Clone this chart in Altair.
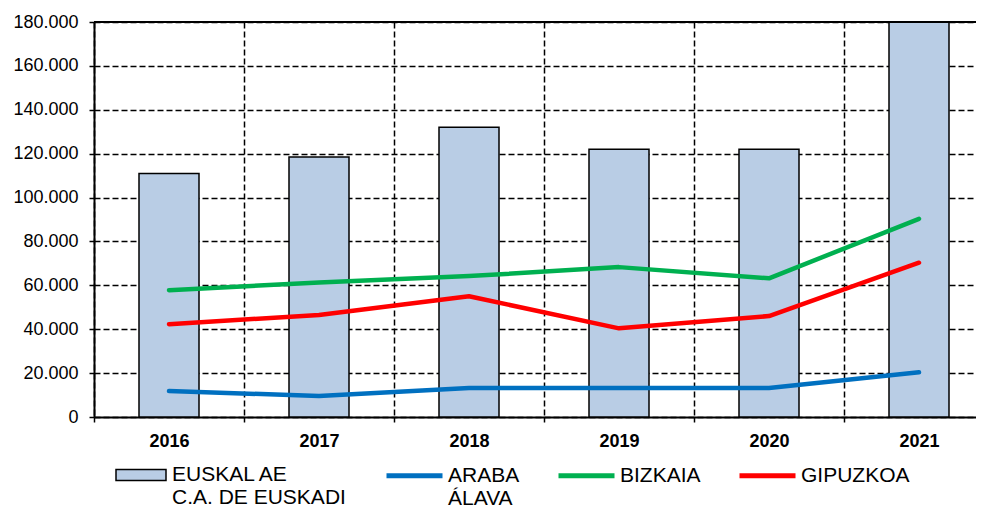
import altair as alt
import pandas as pd

# ---- data ----
years = ["2016", "2017", "2018", "2019", "2020", "2021"]
euskal = [111000, 118500, 132000, 122000, 122000, 196000]
araba = [11800, 9600, 13200, 13200, 13200, 20400]
bizkaia = [57800, 61300, 64200, 68300, 63200, 90300]
gipuzkoa = [42300, 46500, 55000, 40400, 46000, 70300]
y_ticks = [0, 20000, 40000, 60000, 80000, 100000, 120000, 140000, 160000, 180000]
y_top = [180000]

# legend labels: main line and second line
bar_label = ["EUSKAL AE", "C.A. DE EUSKADI"]
line_labels = [["ARABA", "ÁLAVA"], ["BIZKAIA", ""], ["GIPUZKOA", ""]]
line_colors = ["#0070C0", "#00B050", "#FF0000"]
bar_color = "#B9CDE5"
FONT = "Liberation Sans"

# series keys (two lines each, so that every legend entry has the same height)
bar_name = "|".join(bar_label)
line_names = ["|".join(lbl) for lbl in line_labels]

bars_df = pd.DataFrame({"year": years, "value": euskal, "serie": [bar_name] * len(years)})
lines_df = pd.concat(
    [
        pd.DataFrame({"year": years, "value": vals, "serie": [name] * len(years)})
        for name, vals in zip(line_names, [araba, bizkaia, gipuzkoa])
    ],
    ignore_index=True,
)
top_df = pd.DataFrame({"value": y_top})

x_enc = alt.X(
    "year:N",
    sort=years,
    scale=alt.Scale(range=[0, 900], paddingInner=0, paddingOuter=0),
    axis=alt.Axis(
        title=None, labelAngle=0, labelFontSize=18, labelFontWeight="bold",
        labelFont=FONT, labelColor="#000", labelPadding=10, tickBand="extent",
        grid=True, gridColor="#000", gridDash=[6, 3], gridWidth=1.5,
        domainColor="#000", domainWidth=2, tickColor="#000", tickSize=5, tickWidth=1.5,
    ),
)
y_enc = alt.Y(
    "value:Q",
    scale=alt.Scale(domain=[0, 180000], clamp=True, nice=False),
    axis=alt.Axis(
        title=None, values=y_ticks,
        labelExpr="replace(format(datum.value, ','), ',', '.')",
        labelFontSize=18, labelFont=FONT, labelColor="#000", labelPadding=11,
        tickSize=5, tickColor="#000", tickWidth=1.5,
        domainColor="#000", domainWidth=2,
        grid=True, gridColor="#000", gridDash=[6, 3], gridWidth=1.5,
    ),
)

common = dict(
    title=None, orient="none", labelFontSize=21, labelFont=FONT,
    labelColor="#000", labelLimit=400, labelExpr="split(datum.label, '|')",
    labelBaseline="middle", padding=0,
)
bar_legend = alt.Legend(
    legendX=21, legendY=427,
    symbolType="M-1,-0.22H1V0.22H-1Z", symbolSize=2500,
    symbolStrokeColor="#000", symbolStrokeWidth=1.5, labelOffset=5,
    **common,
)
line_legend = alt.Legend(
    legendX=290, legendY=423, direction="horizontal", columnPadding=28,
    symbolType="stroke", symbolSize=3136, symbolStrokeWidth=5, labelOffset=3,
    **common,
)

bars = alt.Chart(bars_df).mark_bar(width=60, stroke="#000", strokeWidth=1.5).encode(
    x=x_enc, y=y_enc,
    fill=alt.Fill("serie:N", scale=alt.Scale(domain=[bar_name], range=[bar_color]),
                  legend=bar_legend),
)
lines = alt.Chart(lines_df).mark_line(strokeWidth=4.5, strokeCap="round", strokeJoin="round").encode(
    x=x_enc, y=y_enc,
    stroke=alt.Stroke("serie:N", scale=alt.Scale(domain=line_names, range=line_colors),
                      legend=line_legend),
)
top = alt.Chart(top_df).mark_rule(color="#000", strokeWidth=2).encode(y=alt.Y("value:Q"))

chart = alt.layer(bars, lines, top).properties(
    width=882, height=395,
    padding={"left": 86, "top": 14, "right": 0, "bottom": 89},
    autosize=alt.AutoSizeParams(type="none"),
).configure_view(stroke=None).configure(background="white")

chart.save("out.html", embed_options={"renderer": "svg", "actions": False})
